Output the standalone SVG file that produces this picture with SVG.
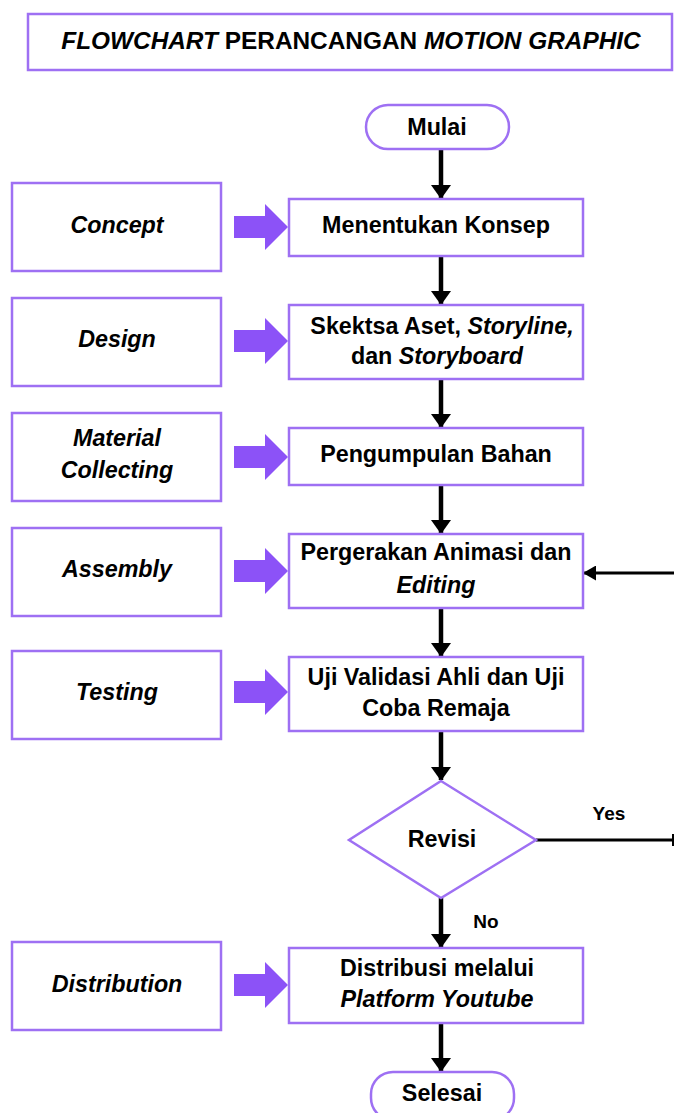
<svg xmlns="http://www.w3.org/2000/svg" width="674" height="1113" viewBox="0 0 674 1113">
<defs>
<style>
.box{fill:#fff;stroke:#9e70f3;stroke-width:2.5}
.t{font-family:"Liberation Sans",Arial,sans-serif;font-weight:bold;font-size:23.3px;fill:#000;text-anchor:middle}
.i{font-style:italic}
.blk{fill:#8c52f7}
.c{stroke:#000;stroke-width:4.5;fill:none}
.c2{stroke:#000;stroke-width:3;fill:none}
</style>
<marker id="ah" markerUnits="userSpaceOnUse" markerWidth="14" markerHeight="20" refX="13" refY="10" orient="auto" viewBox="0 0 14 20">
<path d="M0,0 L14,10 L0,20 Z" fill="#000"/>
</marker>
<marker id="ah2" markerUnits="userSpaceOnUse" markerWidth="13" markerHeight="15" refX="12" refY="7.5" orient="auto" viewBox="0 0 13 15">
<path d="M0,0 L13,7.5 L0,15 Z" fill="#000"/>
</marker>
<path id="blkarrow" d="M0,-11 H31 V-23 L54,0 L31,23 V11 H0 Z"/>
</defs>
<rect width="674" height="1113" fill="#fff"/>

<g id="title">
<rect class="box" x="28" y="14" width="644" height="56"/>
<text class="t" x="351" y="49" style="font-size:24.4px"><tspan class="i">FLOWCHART</tspan> PERANCANGAN <tspan class="i">MOTION GRAPHIC</tspan></text>
</g>

<g id="connectors">
<line class="c" x1="441" y1="149" x2="441" y2="198" marker-end="url(#ah)"/>
<line class="c" x1="441" y1="256" x2="441" y2="304" marker-end="url(#ah)"/>
<line class="c" x1="441" y1="379" x2="441" y2="427" marker-end="url(#ah)"/>
<line class="c" x1="441" y1="485" x2="441" y2="533" marker-end="url(#ah)"/>
<line class="c" x1="441" y1="608" x2="441" y2="656" marker-end="url(#ah)"/>
<line class="c" x1="441" y1="731" x2="441" y2="780" marker-end="url(#ah)"/>
<line class="c" x1="441" y1="898" x2="441" y2="947" marker-end="url(#ah)"/>
<line class="c" x1="441" y1="1023" x2="441" y2="1071" marker-end="url(#ah)"/>
<line class="c2" x1="674" y1="573" x2="584" y2="573" marker-end="url(#ah2)"/>
<line class="c2" x1="536" y1="840" x2="673" y2="840"/>
<line stroke="#000" stroke-width="2" x1="673" y1="834" x2="673" y2="846"/>
<text class="t" x="609" y="820" style="font-size:19px">Yes</text>
<text class="t" x="486" y="928" style="font-size:19px">No</text>
<use href="#blkarrow" class="blk" x="234" y="227"/>
<use href="#blkarrow" class="blk" x="234" y="341"/>
<use href="#blkarrow" class="blk" x="234" y="457"/>
<use href="#blkarrow" class="blk" x="234" y="571"/>
<use href="#blkarrow" class="blk" x="234" y="692"/>
<use href="#blkarrow" class="blk" x="234" y="985"/>
</g>

<g id="mulai">
<rect class="box" x="366" y="105" width="143" height="44" rx="22"/>
<text class="t" x="437" y="135">Mulai</text>
</g>

<g id="concept">
<rect class="box" x="12" y="183" width="209" height="88"/>
<text class="t i" x="117" y="233">Concept</text>
</g>
<g id="konsep">
<rect class="box" x="289" y="199" width="294" height="57"/>
<text class="t" x="436" y="233">Menentukan Konsep</text>
</g>

<g id="design">
<rect class="box" x="12" y="298" width="209" height="88"/>
<text class="t i" x="117" y="347">Design</text>
</g>
<g id="sketsa">
<rect class="box" x="289" y="305" width="294" height="74"/>
<text class="t" x="442" y="334">Skektsa Aset, <tspan class="i">Storyline,</tspan></text>
<text class="t" x="437" y="364">dan <tspan class="i">Storyboard</tspan></text>
</g>

<g id="material">
<rect class="box" x="12" y="413" width="209" height="88"/>
<text class="t i" x="117" y="446">Material</text>
<text class="t i" x="117" y="478">Collecting</text>
</g>
<g id="bahan">
<rect class="box" x="289" y="428" width="294" height="57"/>
<text class="t" x="436" y="462">Pengumpulan Bahan</text>
</g>

<g id="assembly">
<rect class="box" x="12" y="528" width="209" height="88"/>
<text class="t i" x="117" y="577">Assembly</text>
</g>
<g id="animasi">
<rect class="box" x="289" y="534" width="294" height="74"/>
<text class="t" x="436" y="560">Pergerakan Animasi dan</text>
<text class="t i" x="436" y="593">Editing</text>
</g>

<g id="testing">
<rect class="box" x="12" y="651" width="209" height="88"/>
<text class="t i" x="117" y="700">Testing</text>
</g>
<g id="uji">
<rect class="box" x="289" y="657" width="294" height="74"/>
<text class="t" x="436" y="685">Uji Validasi Ahli dan Uji</text>
<text class="t" x="436" y="716">Coba Remaja</text>
</g>

<g id="revisi">
<polygon class="box" points="441,781 536,840 441,898 349,840"/>
<text class="t" x="442" y="847">Revisi</text>
</g>

<g id="distribution">
<rect class="box" x="12" y="942" width="209" height="88"/>
<text class="t i" x="117" y="992">Distribution</text>
</g>
<g id="distribusi">
<rect class="box" x="289" y="948" width="294" height="75"/>
<text class="t" x="437" y="976">Distribusi melalui</text>
<text class="t i" x="437" y="1007">Platform Youtube</text>
</g>

<g id="selesai">
<rect class="box" x="371" y="1072" width="143" height="48" rx="22"/>
<text class="t" x="442" y="1101">Selesai</text>
</g>
</svg>
